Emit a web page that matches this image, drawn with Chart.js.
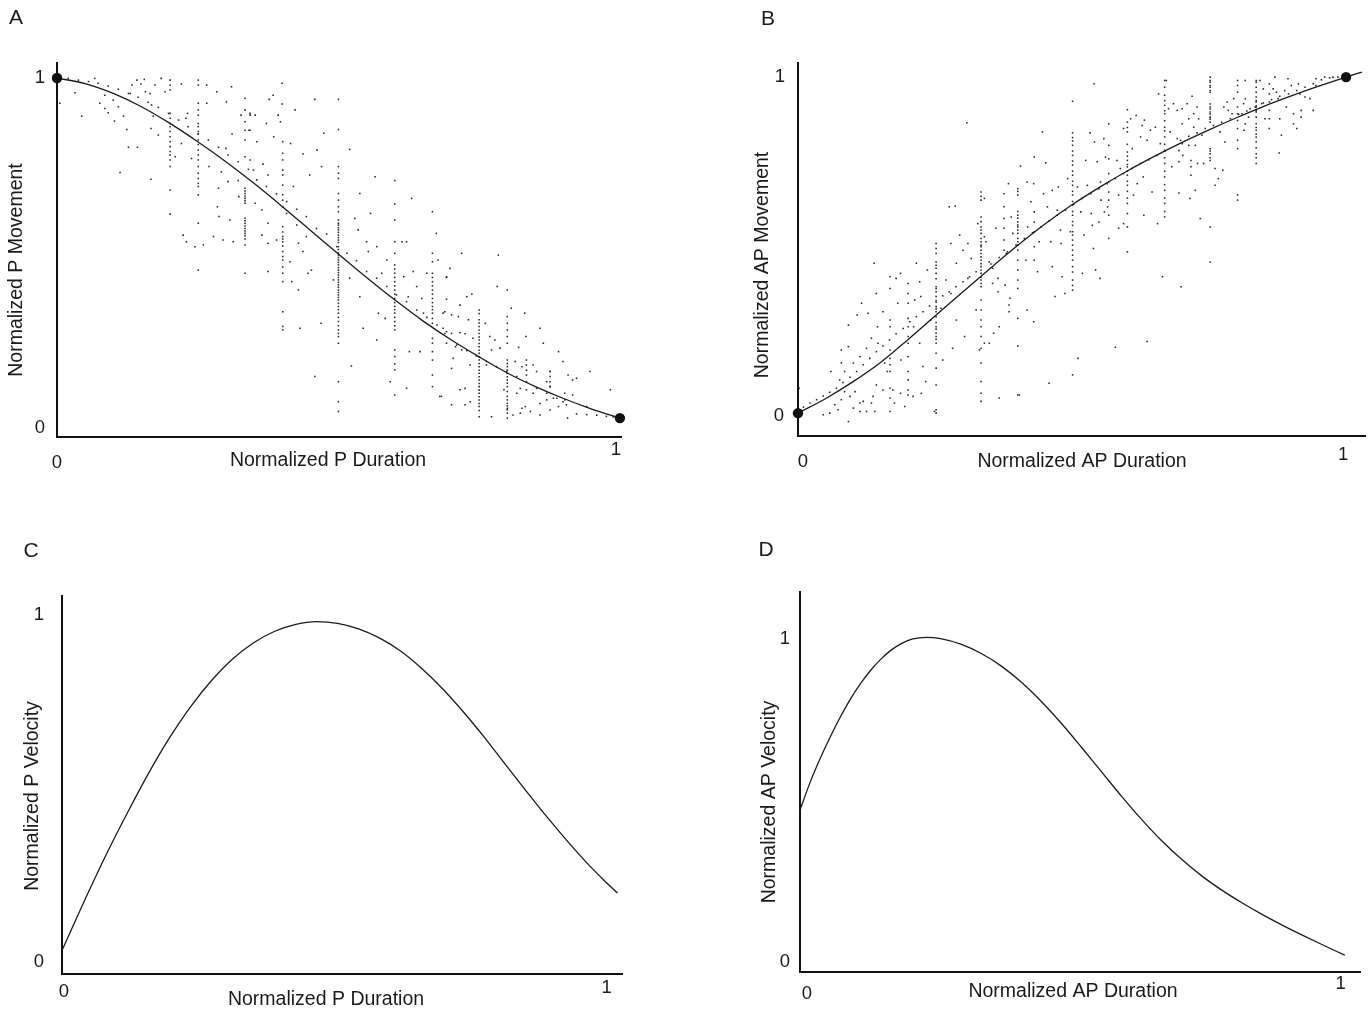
<!DOCTYPE html>
<html>
<head>
<meta charset="utf-8">
<script src="https://cdn.jsdelivr.net/npm/chart.js@4.4.1/dist/chart.umd.min.js"></script>
<style>
html,body{margin:0;padding:0;background:#fff;}
body{width:1371px;height:1011px;position:relative;overflow:hidden;}
canvas{position:absolute;left:0;top:0;}
</style>
</head>
<body>
<canvas id="cA" width="1371" height="1011"></canvas>
<canvas id="cB" width="1371" height="1011"></canvas>
<canvas id="cC" width="1371" height="1011"></canvas>
<canvas id="cD" width="1371" height="1011"></canvas>
<script>
// ---------- Panel A : Normalized P Movement vs Duration ----------
const aCurveX = [0,0.05,0.1,0.15,0.2,0.25,0.3,0.35,0.4,0.45,0.5,0.55,0.6,0.65,0.7,0.75,0.8,0.85,0.9,0.95,1];
const aCurveY = [1,0.984,0.956,0.918,0.871,0.818,0.761,0.699,0.633,0.565,0.497,0.430,0.366,0.306,0.252,0.203,0.157,0.118,0.084,0.054,0.028];
const aEnds = [[0,1],[1,0.028]];
const aTrace = [[0.020,0.999],[0.038,0.994],[0.056,0.990],[0.073,0.985],[0.091,0.977],[0.109,0.968],[0.127,0.956],[0.144,0.945],[0.162,0.931],[0.180,0.916],[0.198,0.899],[0.216,0.880],[0.233,0.861],[0.251,0.840],[0.269,0.823],[0.287,0.802],[0.304,0.780],[0.322,0.761],[0.340,0.739],
[0.355,0.709],[0.372,0.690],[0.390,0.669],[0.408,0.647],[0.426,0.625],[0.443,0.604],[0.461,0.570],[0.479,0.554],[0.497,0.518],[0.515,0.499],[0.532,0.478],[0.550,0.447],[0.568,0.428],[0.586,0.404],[0.603,0.380],[0.621,0.361],[0.639,0.337],[0.657,0.316],[0.675,0.294],[0.692,0.275],
[0.710,0.237],[0.728,0.221],[0.745,0.206],[0.763,0.190],[0.781,0.175],[0.799,0.161],[0.817,0.147],[0.834,0.132],[0.852,0.113],[0.870,0.099],[0.888,0.085],[0.905,0.066],[0.923,0.040],[0.941,0.038],[0.959,0.036],[0.976,0.033],[0.988,0.031]];
const aStripX = [0.201,0.251,0.334,0.401,0.500,0.600,0.667,0.750,0.800,0.876,0.834];
const aStripY = [
[0.994,0.980,0.966,0.899,0.885,0.870,0.861,0.847,0.832,0.818,0.804,0.790,0.780,0.766,0.747,0.680,0.611],
[0.994,0.980,0.928,0.909,0.894,0.870,0.861,0.847,0.840,0.823,0.810,0.794,0.780,0.766,0.747,0.728,0.713,0.699,0.690,0.666,0.585,0.451],
[0.942,0.909,0.875,0.851,0.823,0.775,0.685,0.677,0.670,0.663,0.656,0.649,0.642,0.599,0.592,0.585,0.577,0.570,0.563,0.556,0.549,0.540,0.523,0.442],
[0.818,0.785,0.766,0.737,0.723,0.694,0.666,0.651,0.632,0.575,0.560,0.547,0.540,0.532,0.520,0.504,0.490,0.480,0.460,0.442,0.418,0.332,0.290,0.280],
[0.939,0.853,0.747,0.728,0.713,0.670,0.651,0.632,0.618,0.594,0.585,0.580,0.572,0.566,0.559,0.551,0.544,0.537,0.530,0.518,0.510,0.500,0.494,0.487,0.480,0.473,0.466,0.458,0.451,0.444,0.437,0.430,0.423,0.416,0.409,0.402,0.394,0.387,0.380,0.373,0.366,0.356,0.347,0.338,0.328,0.316,0.304,0.292,0.280,0.270,0.261,0.242,0.132,0.075,0.047],
[0.707,0.640,0.594,0.532,0.499,0.466,0.454,0.442,0.430,0.418,0.406,0.394,0.382,0.370,0.358,0.347,0.338,0.328,0.316,0.304,0.292,0.280,0.223,0.204,0.183,0.166,0.094],
[0.618,0.499,0.475,0.442,0.430,0.418,0.406,0.394,0.382,0.370,0.358,0.347,0.338,0.328,0.313,0.299,0.256,0.242,0.218,0.194,0.151,0.118],
[0.337,0.327,0.309,0.300,0.290,0.280,0.270,0.260,0.251,0.241,0.232,0.222,0.213,0.203,0.194,0.184,0.175,0.165,0.156,0.146,0.137,0.127,0.118,0.108,0.099,0.089,0.080,0.070,0.061,0.050,0.032],
[0.394,0.318,0.299,0.280,0.261,0.242,0.194,0.184,0.175,0.165,0.156,0.146,0.137,0.128,0.118,0.104,0.090,0.080,0.070,0.063,0.056,0.052,0.042,0.028],
[0.161,0.147,0.132,0.118],
[0.194,0.180,0.165,0.151]];
const aScatter = [[0.005,0.928],[0.032,0.958],[0.044,0.891],[0.067,0.999],[0.076,0.928],[0.085,0.951],[0.085,0.913],[0.091,0.901],[0.100,0.937],[0.102,0.877],[0.109,0.918],[0.118,0.891],[0.124,0.853],[0.127,0.802],[0.130,0.956],[0.133,0.980],[0.142,0.994],[0.149,0.983],[0.155,0.996],[0.157,0.961],[0.143,0.802],[0.165,0.956],[0.168,0.923],[0.167,0.856],[0.171,0.891],[0.174,0.980],[0.180,0.837],[0.185,0.999],[0.192,0.961],[0.112,0.730],[0.167,0.711],[0.210,0.775],[0.221,0.983],[0.221,0.813],[0.229,0.885],[0.232,0.899],[0.224,0.551],[0.230,0.532],[0.245,0.518],[0.239,0.770],[0.260,0.523],[0.266,0.980],[0.266,0.928],[0.270,0.747],[0.278,0.547],[0.284,0.961],[0.287,0.685],[0.285,0.632],[0.288,0.604],[0.292,0.732],[0.295,0.537],[0.300,0.799],[0.301,0.932],[0.304,0.704],[0.307,0.594],[0.310,0.975],[0.313,0.532],[0.311,0.840],[0.322,0.707],[0.323,0.661],[0.327,0.894],[0.341,0.851],[0.343,0.899],[0.349,0.737],
[0.343,0.894],[0.352,0.894],[0.343,0.851],[0.355,0.818],[0.372,0.870],[0.377,0.939],[0.384,0.951],[0.385,0.832],[0.393,0.894],[0.397,0.875],[0.400,0.985],[0.400,0.926],[0.415,0.813],[0.423,0.909],[0.437,0.783],[0.458,0.939],[0.462,0.794],[0.470,0.747],[0.474,0.842],[0.343,0.766],[0.366,0.754],[0.375,0.723],[0.352,0.642],[0.364,0.623],[0.375,0.585],[0.375,0.528],[0.375,0.447],[0.364,0.551],[0.390,0.537],[0.414,0.475],[0.417,0.418],[0.429,0.394],[0.432,0.285],[0.429,0.528],[0.437,0.504],[0.446,0.442],[0.452,0.451],[0.458,0.147],[0.469,0.299],[0.491,0.423],[0.449,0.723],[0.420,0.690],[0.408,0.613],[0.426,0.580],[0.443,0.547],[0.520,0.796],[0.523,0.177],[0.520,0.428],[0.529,0.599],[0.535,0.566],[0.538,0.670],[0.538,0.375],[0.544,0.285],[0.550,0.532],[0.553,0.504],[0.557,0.613],[0.565,0.718],[0.568,0.518],[0.571,0.328],[0.568,0.251],[0.577,0.442],[0.583,0.313],[0.586,0.480],[0.592,0.132],[0.613,0.532],[0.616,0.432],[0.621,0.532],[0.624,0.375],[0.626,0.218],[0.621,0.113],[0.630,0.656],[0.633,0.447],[0.639,0.404],[0.645,0.218],[0.648,0.370],[0.651,0.328],[0.657,0.442],[0.674,0.556],[0.677,0.480],[0.680,0.090],[0.686,0.328],[0.689,0.270],[0.692,0.432],
[0.719,0.499],[0.784,0.494],[0.782,0.404],[0.698,0.456],[0.692,0.430],[0.692,0.368],[0.728,0.375],[0.737,0.383],[0.716,0.351],[0.689,0.332],[0.701,0.323],[0.713,0.318],[0.731,0.309],[0.761,0.299],[0.807,0.342],[0.831,0.328],[0.686,0.285],[0.701,0.270],[0.716,0.272],[0.725,0.269],[0.739,0.256],[0.692,0.242],[0.708,0.232],[0.719,0.223],[0.769,0.261],[0.778,0.251],[0.772,0.223],[0.787,0.228],[0.820,0.230],[0.833,0.261],[0.864,0.242],[0.858,0.285],[0.704,0.199],[0.734,0.180],[0.701,0.170],[0.763,0.180],[0.814,0.190],[0.826,0.175],[0.846,0.180],[0.852,0.161],[0.876,0.161],[0.891,0.218],[0.899,0.190],[0.870,0.132],[0.908,0.151],[0.916,0.137],[0.923,0.142],[0.947,0.161],[0.983,0.109],[0.716,0.109],[0.725,0.113],[0.734,0.075],[0.725,0.066],[0.701,0.066],[0.683,0.090],[0.772,0.032],[0.794,0.109],[0.817,0.099],[0.823,0.113],[0.834,0.109],[0.826,0.056],[0.841,0.047],[0.810,0.037],[0.858,0.070],[0.870,0.080],[0.882,0.085],[0.891,0.061],[0.899,0.075],[0.907,0.028],[0.858,0.037],[0.876,0.051],[0.916,0.094],[0.941,0.061],[0.832,0.061],[0.823,0.042],[0.846,0.099],[0.902,0.099],[0.876,0.118],[0.902,0.080]];

// ---------- Panel B : Normalized AP Movement vs Duration ----------
const bCurveX = [0,0.05,0.1,0.15,0.2,0.25,0.3,0.35,0.4,0.45,0.5,0.55,0.6,0.65,0.7,0.75,0.8,0.85,0.9,0.95,1,1.029];
const bCurveY = [0,0.043,0.093,0.150,0.218,0.289,0.360,0.430,0.498,0.562,0.620,0.672,0.720,0.764,0.805,0.843,0.879,0.913,0.944,0.973,1.0,1.015];
const bEnds = [[0,0],[1,1]];
const bTrace = [[0.010,0.018],[0.022,0.030],[0.034,0.040],[0.046,0.051],[0.058,0.062],[0.070,0.074],[0.082,0.091],[0.095,0.107],[0.107,0.124],[0.119,0.144],[0.131,0.163],[0.143,0.183],[0.155,0.200],[0.167,0.218],[0.179,0.236],[0.192,0.252],[0.204,0.272],[0.216,0.287],[0.228,0.302],[0.240,0.319],[0.252,0.335],[0.264,0.349],[0.276,0.361],[0.288,0.376],[0.301,0.391],[0.313,0.406],[0.325,0.421],
[0.352,0.444],[0.367,0.463],[0.382,0.480],[0.398,0.500],[0.413,0.520],[0.428,0.537],[0.443,0.554],[0.458,0.572],[0.473,0.589],[0.488,0.604],[0.503,0.622],[0.518,0.639],[0.534,0.653],[0.549,0.668],[0.564,0.683],[0.579,0.698],[0.594,0.713],[0.609,0.728],[0.625,0.743],[0.640,0.754],[0.655,0.767],[0.670,0.780],
[0.698,0.812],[0.713,0.824],[0.728,0.834],[0.743,0.847],[0.758,0.856],[0.773,0.866],[0.789,0.876],[0.804,0.889],[0.819,0.899],[0.834,0.911],[0.849,0.923],[0.864,0.933],[0.879,0.943],[0.895,0.950],[0.910,0.960],[0.925,0.970],[0.940,0.980],[0.955,0.992],[0.970,0.998],[0.985,1.000]];
const bStripX = [0.168,0.201,0.252,0.334,0.376,0.401,0.431,0.501,0.567,0.601,0.669,0.717,0.752,0.802,0.836,0.860];
const bStripY = [
[0.406,0.371,0.277,0.257,0.188,0.163,0.144,0.124,0.074,0.045,0.005],
[0.386,0.356,0.327,0.282,0.257,0.228,0.208,0.168,0.124,0.099,0.069,0.054],
[0.505,0.490,0.475,0.450,0.440,0.431,0.416,0.400,0.376,0.370,0.361,0.347,0.330,0.317,0.310,0.302,0.287,0.270,0.257,0.250,0.238,0.228,0.220,0.208,0.178,0.134,0.084,0.010,0.000],
[0.658,0.645,0.634,0.584,0.570,0.554,0.545,0.535,0.520,0.510,0.500,0.495,0.485,0.475,0.465,0.455,0.445,0.436,0.425,0.416,0.405,0.396,0.386,0.376,0.337,0.307,0.277,0.257,0.228,0.193,0.149,0.094,0.059,0.035],
[0.653,0.614,0.579,0.550,0.515,0.485],
[0.668,0.660,0.649,0.600,0.589,0.580,0.569,0.560,0.554,0.545,0.535,0.520,0.510,0.500,0.485,0.455,0.426,0.396,0.371,0.282,0.200,0.054],
[0.762,0.599,0.569,0.540,0.495,0.455],
[0.928,0.834,0.820,0.810,0.797,0.780,0.767,0.750,0.738,0.720,0.708,0.690,0.678,0.660,0.649,0.630,0.619,0.600,0.589,0.570,0.559,0.540,0.530,0.515,0.500,0.485,0.470,0.455,0.436,0.420,0.396,0.380,0.366,0.114],
[0.861,0.797,0.757,0.713,0.658,0.634,0.589,0.520],
[0.903,0.866,0.850,0.837,0.800,0.777,0.765,0.752,0.740,0.733,0.720,0.708,0.690,0.678,0.660,0.640,0.624,0.594,0.554,0.480],
[0.990,0.970,0.946,0.930,0.916,0.900,0.891,0.870,0.851,0.840,0.822,0.800,0.782,0.760,0.743,0.720,0.703,0.680,0.663,0.640,0.624,0.600,0.584],
[0.752,0.733,0.708],
[1.0,0.990,0.985,0.975,0.970,0.960,0.955,0.920,0.911,0.905,0.896,0.890,0.881,0.875,0.866,0.787,0.780,0.772,0.760,0.752,0.554,0.450],
[0.990,0.975,0.955,0.911,0.891,0.871,0.847,0.812,0.787,0.649,0.634],
[0.990,0.985,0.970,0.955,0.941,0.930,0.926,0.915,0.911,0.900,0.896,0.881,0.861,0.850,0.842,0.830,0.822,0.807,0.790,0.772,0.760,0.743],
[0.980,0.950,0.926,0.901,0.876,0.847]];
const bScatter = [[0.002,0.074],[0.046,-0.005],[0.058,0.000],[0.067,0.025],[0.073,0.010],[0.079,0.040],[0.092,-0.025],[0.085,0.064],[0.095,0.050],[0.101,0.015],[0.104,0.064],[0.113,0.030],[0.113,0.005],[0.119,0.035],[0.125,0.005],[0.134,0.030],[0.137,0.050],[0.140,0.005],[0.143,0.084],[0.155,0.069],[0.092,0.198],[0.079,0.188],[0.079,0.150],[0.060,0.124],[0.076,0.099],[0.085,0.124],[0.101,0.149],[0.113,0.168],[0.125,0.193],[0.134,0.223],[0.092,0.262],[0.108,0.292],[0.116,0.327],[0.128,0.297],[0.139,0.446],[0.143,0.356],[0.145,0.257],[0.146,0.208],[0.155,0.302],[0.158,0.149],[0.163,0.124],[0.173,0.069],[0.176,0.030],[0.179,0.401],[0.182,0.327],[0.187,0.416],[0.188,0.158],[0.187,0.059],[0.195,0.020],[0.213,0.337],[0.211,0.257],[0.210,0.050],[0.216,0.446],[0.222,0.391],[0.224,0.347],[0.222,0.208],[0.225,0.059],[0.228,0.139],[0.233,0.094],[0.236,0.426],[0.242,0.277],[0.249,0.005],[0.261,0.312],[0.264,0.158],[0.270,0.396],[0.276,0.614],[0.287,0.616],[0.279,0.505],[0.279,0.356],[0.282,0.193],[0.289,0.446],[0.289,0.277],[0.295,0.530],[0.301,0.485],[0.304,0.228],[0.310,0.505],[0.310,0.401],[0.325,0.307],[0.316,0.460],[0.308,0.864],[0.328,0.564],[0.331,0.188],
[0.340,0.639],[0.343,0.510],[0.340,0.525],[0.349,0.450],[0.355,0.431],[0.355,0.386],[0.361,0.550],[0.365,0.361],[0.367,0.257],[0.365,0.401],[0.387,0.342],[0.378,0.381],[0.385,0.322],[0.385,0.302],[0.384,0.683],[0.389,0.584],[0.392,0.535],[0.380,0.475],[0.406,0.735],[0.418,0.688],[0.418,0.307],[0.416,0.455],[0.419,0.554],[0.425,0.629],[0.430,0.272],[0.430,0.683],[0.437,0.421],[0.440,0.510],[0.446,0.837],[0.448,0.653],[0.452,0.745],[0.455,0.614],[0.458,0.089],[0.461,0.510],[0.464,0.436],[0.464,0.663],[0.469,0.347],[0.473,0.604],[0.475,0.673],[0.479,0.545],[0.480,0.505],[0.482,0.406],[0.487,0.356],[0.492,0.698],[0.497,0.540],[0.511,0.163],[0.510,0.673],[0.516,0.599],[0.519,0.416],[0.522,0.530],[0.525,0.752],[0.528,0.678],[0.533,0.834],[0.535,0.594],[0.537,0.559],[0.539,0.490],[0.540,0.980],[0.541,0.807],[0.543,0.426],[0.546,0.748],[0.549,0.569],[0.551,0.401],[0.552,0.688],[0.553,0.634],[0.558,0.817],[0.559,0.599],[0.561,0.762],[0.565,0.614],[0.567,0.688],[0.579,0.196],[0.582,0.752],[0.585,0.649],[0.585,0.550],[0.588,0.728],[0.594,0.847],[0.594,0.564],[0.607,0.876],[0.610,0.787],[0.612,0.649],[0.617,0.886],[0.619,0.683],[0.625,0.822],[0.628,0.856],[0.630,0.703],[0.631,0.589],[0.632,0.872],[0.637,0.213],[0.637,0.812],[0.643,0.842],[0.646,0.658],[0.652,0.851],[0.656,0.564],[0.658,0.950],[0.661,0.802],[0.672,0.990],[0.665,0.406],[0.676,0.906],[0.679,0.837],[0.682,0.733],[0.340,0.208],[0.349,0.208],[0.357,0.238],[0.367,0.045],[0.404,0.054],
[0.685,0.921],[0.692,0.901],[0.701,0.906],[0.710,0.921],[0.719,0.943],[0.713,0.876],[0.701,0.861],[0.722,0.891],[0.728,0.911],[0.731,0.876],[0.722,0.851],[0.692,0.817],[0.695,0.782],[0.701,0.802],[0.713,0.797],[0.725,0.797],[0.737,0.827],[0.702,0.767],[0.695,0.748],[0.729,0.743],[0.740,0.743],[0.695,0.655],[0.715,0.639],[0.725,0.663],[0.734,0.579],[0.699,0.376],[0.761,0.728],[0.767,0.698],[0.761,0.678],[0.775,0.723],[0.770,0.837],[0.779,0.807],[0.783,0.926],[0.777,0.911],[0.785,0.901],[0.795,0.936],[0.792,0.891],[0.816,0.990],[0.816,0.936],[0.813,0.921],[0.810,0.891],[0.816,0.861],[0.822,0.881],[0.825,0.906],[0.814,0.842],[0.843,0.990],[0.849,0.965],[0.846,0.921],[0.852,0.876],[0.867,0.965],[0.870,1.0],[0.873,0.955],[0.876,0.936],[0.879,0.876],[0.882,0.827],[0.878,0.774],[0.888,0.960],[0.891,0.911],[0.894,0.995],[0.900,0.975],[0.904,0.891],[0.904,0.861],[0.910,0.847],[0.913,0.980],[0.916,0.950],[0.918,0.881],[0.918,0.901],[0.925,0.941],[0.934,0.936],[0.940,0.901],[0.945,0.995],[0.945,0.975],[0.961,1.0],[0.976,1.0]];

// ---------- Panel C : Normalized P Velocity ----------
const cCurveX = [0,0.043,0.081,0.119,0.156,0.194,0.232,0.270,0.307,0.345,0.383,0.421,0.458,0.496,0.534,0.572,0.610,0.647,0.685,0.723,0.761,0.798,0.836,0.874,0.912,0.949,0.975,1];
const cCurveY = [0.030,0.183,0.312,0.432,0.543,0.646,0.736,0.812,0.873,0.920,0.953,0.973,0.981,0.976,0.960,0.933,0.895,0.846,0.787,0.719,0.645,0.568,0.490,0.414,0.342,0.276,0.234,0.196];

// ---------- Panel D : Normalized AP Velocity ----------
const dCurveX = [0,0.018,0.037,0.055,0.074,0.092,0.111,0.129,0.148,0.166,0.185,0.207,0.232,0.258,0.295,0.332,0.369,0.406,0.443,0.480,0.517,0.554,0.590,0.627,0.664,0.701,0.738,0.775,0.812,0.849,0.886,0.923,0.959,1];
const dCurveY = [0.469,0.552,0.628,0.693,0.756,0.810,0.859,0.899,0.934,0.961,0.982,0.997,1.002,0.998,0.981,0.953,0.914,0.864,0.804,0.736,0.662,0.586,0.512,0.440,0.374,0.316,0.265,0.221,0.182,0.146,0.113,0.082,0.053,0.021];

const tickLabels = ['0','1'];

// ---------- helpers ----------
const W = 1371, H = 1011;
const FONT = '"Liberation Sans", Arial, Helvetica, sans-serif';
const INK = '#1a1a1a';
function pts(pairs){ return pairs.map(p => ({x:p[0], y:p[1]})); }
function strips(xs, yss){ const out=[]; xs.forEach((x,i)=>yss[i].forEach(y=>out.push({x:x,y:y}))); return out; }

const textPlugin = {
  id: 'panelText',
  afterDraw(chart, args, o) {
    const ctx = chart.ctx, xs = chart.scales.x, ys = chart.scales.y;
    ctx.save();
    ctx.fillStyle = INK;
    ctx.textAlign = 'center';
    ctx.textBaseline = 'middle';
    ctx.font = '18.5px ' + FONT;
    o.yTicks.forEach(t => ctx.fillText(tickLabels[t.v], t.cx, ys.getPixelForValue(t.v) + (t.dy||0)));
    o.xTicks.forEach(t => ctx.fillText(tickLabels[t.v], xs.getPixelForValue(t.v) + (t.dx||0), t.cy));
    ctx.font = '19.5px ' + FONT;
    ctx.fillText(o.xTitle[0], o.xTitle[1], o.xTitle[2]);
    ctx.save();
    ctx.translate(o.yTitle[1], o.yTitle[2]);
    ctx.rotate(-Math.PI/2);
    ctx.fillText(o.yTitle[0], 0, 0);
    ctx.restore();
    ctx.font = '21px ' + FONT;
    ctx.fillText(o.letter[0], o.letter[1], o.letter[2]);
    ctx.restore();
  }
};

function makePanel(id, p) {
  const datasets = [];
  if (p.ends) datasets.push({type:'scatter', data:pts(p.ends), pointRadius:5.2, pointBackgroundColor:'#111', pointBorderWidth:0, clip:false});
  datasets.push({type:'line', data:p.cx.map((x,i)=>({x:x, y:p.cy[i]})), borderColor:INK, borderWidth:1.3, pointRadius:0, cubicInterpolationMode:'monotone', fill:false, clip:false});
  (p.dots||[]).forEach(d => datasets.push({type:'scatter', data:d, pointStyle:'rect', pointRadius:1.1, pointBackgroundColor:'#262626', pointBorderWidth:0, clip:false}));
  const axis = (min, max, horiz) => ({
    type:'linear', min:min, max:max, display:true,
    ticks:{display:false}, grid:{display:false, drawTicks:false},
    border:{display:true, color:'#111', width:2},
    afterFit: s => { if (horiz) s.height = 0; else s.width = 0; }
  });
  new Chart(document.getElementById(id), {
    type:'scatter',
    data:{datasets:datasets},
    options:{
      responsive:false, animation:false, devicePixelRatio:1, events:[],
      layout:{padding:{left:p.area[0], top:p.area[1], right:W-p.area[2], bottom:H-p.area[3]}},
      plugins:{legend:{display:false}, tooltip:{enabled:false}, panelText:p.text},
      scales:{x:axis(p.xr[0], p.xr[1], true), y:axis(p.yr[0], p.yr[1], false)}
    },
    plugins:[textPlugin]
  });
}

makePanel('cA', {
  area:[57,63,621,437], xr:[0,1.002], yr:[-0.026,1.043],
  cx:aCurveX, cy:aCurveY, ends:aEnds,
  dots:[pts(aTrace), strips(aStripX, aStripY), pts(aScatter)],
  text:{yTicks:[{v:1,cx:40},{v:0,cx:40}], xTicks:[{v:0,cy:463},{v:1,dx:-4,cy:450}],
        xTitle:['Normalized P Duration',328,461], yTitle:['Normalized P Movement',17,270], letter:['A',16,18]}
});
makePanel('cB', {
  area:[798,63,1368,436], xr:[0,1.036], yr:[-0.068,1.042],
  cx:bCurveX, cy:bCurveY, ends:bEnds,
  dots:[pts(bTrace), strips(bStripX, bStripY), pts(bScatter)],
  text:{yTicks:[{v:1,cx:780},{v:0,cx:779,dy:3}], xTicks:[{v:0,dx:5,cy:462},{v:1,dx:-3,cy:455}],
        xTitle:['Normalized AP Duration',1082,462], yTitle:['Normalized AP Movement',763,265], letter:['B',768,19]}
});
makePanel('cC', {
  area:[62,596,622,974], xr:[0,1.008], yr:[-0.038,1.055],
  cx:cCurveX, cy:cCurveY,
  text:{yTicks:[{v:1,cx:39},{v:0,cx:39,dy:1}], xTicks:[{v:0,dx:2,cy:992},{v:1,dx:-11,cy:988}],
        xTitle:['Normalized P Duration',326,1000], yTitle:['Normalized P Velocity',33,796], letter:['C',31,551]}
});
makePanel('cD', {
  area:[800,592,1360,972], xr:[0,1.028], yr:[-0.031,1.142],
  cx:dCurveX, cy:dCurveY,
  text:{yTicks:[{v:1,cx:785,dy:1},{v:0,cx:785}], xTicks:[{v:0,dx:7,cy:994},{v:1,dx:-4,cy:984}],
        xTitle:['Normalized AP Duration',1073,992], yTitle:['Normalized AP Velocity',770,802], letter:['D',766,550]}
});
</script>
</body>
</html>
